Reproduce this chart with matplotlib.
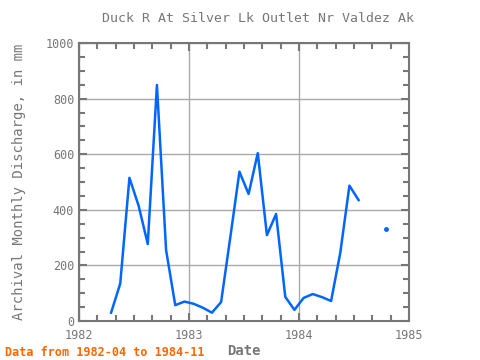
import matplotlib
matplotlib.use("Agg")
import matplotlib.pyplot as plt
import numpy as np

plt.rcParams['font.family'] = 'DejaVu Sans Mono'

# monthly values from 1982-04, None = no data
months = ['1982-04', '1982-05', '1982-06', '1982-07', '1982-08', '1982-09',
          '1982-10', '1982-11', '1982-12', '1983-01', '1983-02', '1983-03',
          '1983-04', '1983-05', '1983-06', '1983-07', '1983-08', '1983-09',
          '1983-10', '1983-11', '1983-12', '1984-01', '1984-02', '1984-03',
          '1984-04', '1984-05', '1984-06', '1984-07', '1984-08', '1984-09',
          '1984-10']
discharge = [30, 135, 515, 415, 277, 849,
             255, 57, 70, 62, 48, 30,
             68, 300, 537, 457, 604, 309,
             385, 87, 40, 83, 97, 86,
             72, 245, 487, 435, None, None,
             331]

x = np.array([int(m[:4]) + (int(m[5:]) - 1) / 12 + 0.5 / 12 for m in months])
y = np.array([np.nan if v is None else v for v in discharge], dtype=float)

grey = '#777777'
fig = plt.figure(figsize=(4.8, 3.6), dpi=100)
ax = fig.add_axes([0.1646, 0.1083, 0.6875, 0.7722])

ax.plot(x, y, color='#0066ff', lw=1.8)
# isolated points (no neighbours) drawn as dots
for i in range(len(y)):
    prev_ok = i > 0 and not np.isnan(y[i - 1])
    next_ok = i < len(y) - 1 and not np.isnan(y[i + 1])
    if not np.isnan(y[i]) and not prev_ok and not next_ok:
        ax.plot(x[i], y[i], 'o', color='#0066ff', ms=2.5)

ax.set_xlim(1982, 1985)
ax.set_ylim(0, 1000)
ax.set_xticks([1982, 1983, 1984, 1985])
ax.set_xticks(np.arange(1982, 1985, 1 / 6), minor=True)
ax.set_yticks([0, 200, 400, 600, 800, 1000])
ax.set_yticks(np.arange(0, 1001, 50), minor=True)
ax.grid(True, which='major', color='#aaaaaa', lw=1)
ax.tick_params(which='both', direction='in', top=True, right=True,
               color=grey, width=1.5, labelsize=8.5, labelcolor=grey)
ax.tick_params(which='major', length=6)
ax.tick_params(which='minor', length=4)
ax.tick_params(axis='x', pad=6)
for s in ax.spines.values():
    s.set_color(grey)
    s.set_linewidth(1.5)

ax.set_title('Duck R At Silver Lk Outlet Nr Valdez Ak', color=grey,
             fontsize=9.5, pad=15, x=0.542)
ax.set_ylabel('Archival Monthly Discharge, in mm', color=grey, fontsize=10,
              labelpad=14)
ax.set_xlabel('Date', color=grey, fontsize=10, fontweight='bold', labelpad=1)
fig.text(0.01, 0.01, 'Data from 1982-04 to 1984-11', color='#ff6600',
         fontsize=8.5, fontweight='bold')

fig.savefig('out.png', dpi=100)
